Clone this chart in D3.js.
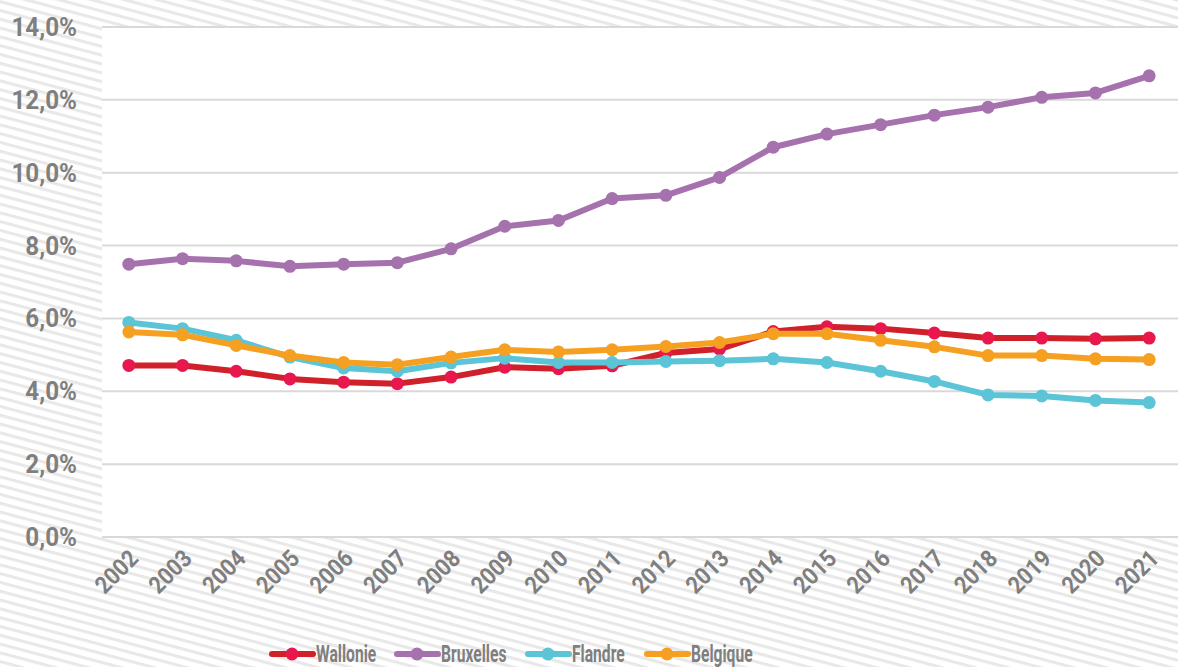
<!DOCTYPE html>
<html>
<head>
  <meta charset="UTF-8">
  <style>
      body{ margin: 0; }
      svg text{ font-family: Roboto, "DejaVu Sans", sans-serif; font-weight: bold; fill: #7f7f7f; }
  </style>
</head>
<body>
<svg></svg>
<script src="https://d3js.org/d3.v7.min.js"></script>

<script>

let width = 1178, height = 667;

// data
let years = d3.range(2002, 2022).map(String);
let yTicks = [0, 2, 4, 6, 8, 10, 12, 14];
let wallonie  = [4.71, 4.71, 4.55, 4.34, 4.25, 4.21, 4.39, 4.66, 4.62, 4.70, 5.05, 5.16, 5.64, 5.77, 5.72, 5.60, 5.46, 5.46, 5.44, 5.46];
let bruxelles = [7.49, 7.64, 7.58, 7.43, 7.49, 7.53, 7.91, 8.53, 8.69, 9.29, 9.38, 9.87, 10.70, 11.06, 11.32, 11.58, 11.80, 12.07, 12.19, 12.66];
let flandre   = [5.89, 5.72, 5.40, 4.94, 4.64, 4.55, 4.78, 4.91, 4.79, 4.79, 4.82, 4.84, 4.89, 4.79, 4.55, 4.27, 3.90, 3.87, 3.75, 3.69];
let belgique  = [5.63, 5.55, 5.26, 4.98, 4.79, 4.73, 4.94, 5.14, 5.08, 5.14, 5.23, 5.34, 5.58, 5.58, 5.40, 5.22, 4.98, 4.98, 4.89, 4.87];

let series = [
  {name: "Wallonie",  values: wallonie,  line: "#d0202a", dot: "#e8184f"},
  {name: "Bruxelles", values: bruxelles, line: "#a672ae", dot: "#a672ae"},
  {name: "Flandre",   values: flandre,   line: "#5bc4d6", dot: "#5bc4d6"},
  {name: "Belgique",  values: belgique,  line: "#f5a021", dot: "#f5a021"}
];

let svg = d3.select("svg")
    .attr("width", width)
    .attr("height", height);

// hatched background
let pat = svg.append("defs").append("pattern")
    .attr("id", "hatch")
    .attr("patternUnits", "userSpaceOnUse")
    .attr("width", 40).attr("height", 8.5)
    .attr("patternTransform", "rotate(15)");
pat.append("rect").attr("width", 40).attr("height", 8.5).attr("fill", "#ffffff");
pat.append("rect").attr("y", 0).attr("width", 40).attr("height", 3).attr("fill", "#e8e8e8");

svg.append("rect")
    .attr("width", width).attr("height", height)
    .attr("fill", "url(#hatch)");

let x = d3.scaleBand().domain(years).range([102, 1176]);
let y = d3.scaleLinear().domain([0, 14]).range([537, 27]);

// plot area
svg.append("rect")
    .attr("x", 102).attr("y", y(14))
    .attr("width", width - 102).attr("height", y(0) - y(14))
    .attr("fill", "white");

// grid
svg.append("g")
  .selectAll("line")
  .data(yTicks)
  .enter()
  .append("line")
    .attr("x1", 102).attr("x2", width)
    .attr("y1", d => y(d)).attr("y2", d => y(d))
    .attr("stroke", "#d9d9d9")
    .attr("stroke-width", 2);

// y labels
svg.append("g")
  .selectAll("text")
  .data(yTicks)
  .enter()
  .append("text")
    .attr("text-anchor", "end")
    .attr("transform", d => "translate(77," + (y(d) + 9) + ") scale(0.97,1)")
    .style("font-size", "25px")
    .text(d => d.toFixed(1).replace(".", ",") + "%");

// x labels
svg.append("g")
  .selectAll("text")
  .data(years)
  .enter()
  .append("text")
    .attr("text-anchor", "end")
    .attr("transform", d => "translate(" + (x(d) + x.bandwidth() / 2 + 11) + ",560) rotate(-45) scale(0.9,1)")
    .style("font-size", "24px")
    .text(d => d);

let line = d3.line()
    .x((d, i) => x(years[i]) + x.bandwidth() / 2)
    .y(d => y(d));

series.forEach(s => {
  let g = svg.append("g");
  g.append("path")
    .attr("d", line(s.values))
    .attr("fill", "none")
    .attr("stroke", s.line)
    .attr("stroke-width", 6)
    .attr("stroke-linejoin", "round");
  g.selectAll("circle")
    .data(s.values)
    .enter()
    .append("circle")
      .attr("cx", (d, i) => x(years[i]) + x.bandwidth() / 2)
      .attr("cy", d => y(d))
      .attr("r", 6.5)
      .attr("fill", s.dot);
});

// legend
let legendX = [272, 397, 528, 647];
let legend = svg.append("g")
  .selectAll("g")
  .data(series)
  .enter()
  .append("g")
    .attr("transform", (d, i) => "translate(" + legendX[i] + ",654)");

legend.append("line")
    .attr("x1", 0).attr("x2", 41)
    .attr("stroke", d => d.line)
    .attr("stroke-width", 6)
    .attr("stroke-linecap", "round");
legend.append("circle")
    .attr("cx", 20).attr("r", 6.5)
    .attr("fill", d => d.dot);
legend.append("text")
    .attr("transform", "translate(44,8) scale(0.68,1)")
    .style("font-size", "23px")
    .text(d => d.name);

</script>

</body>
</html>
